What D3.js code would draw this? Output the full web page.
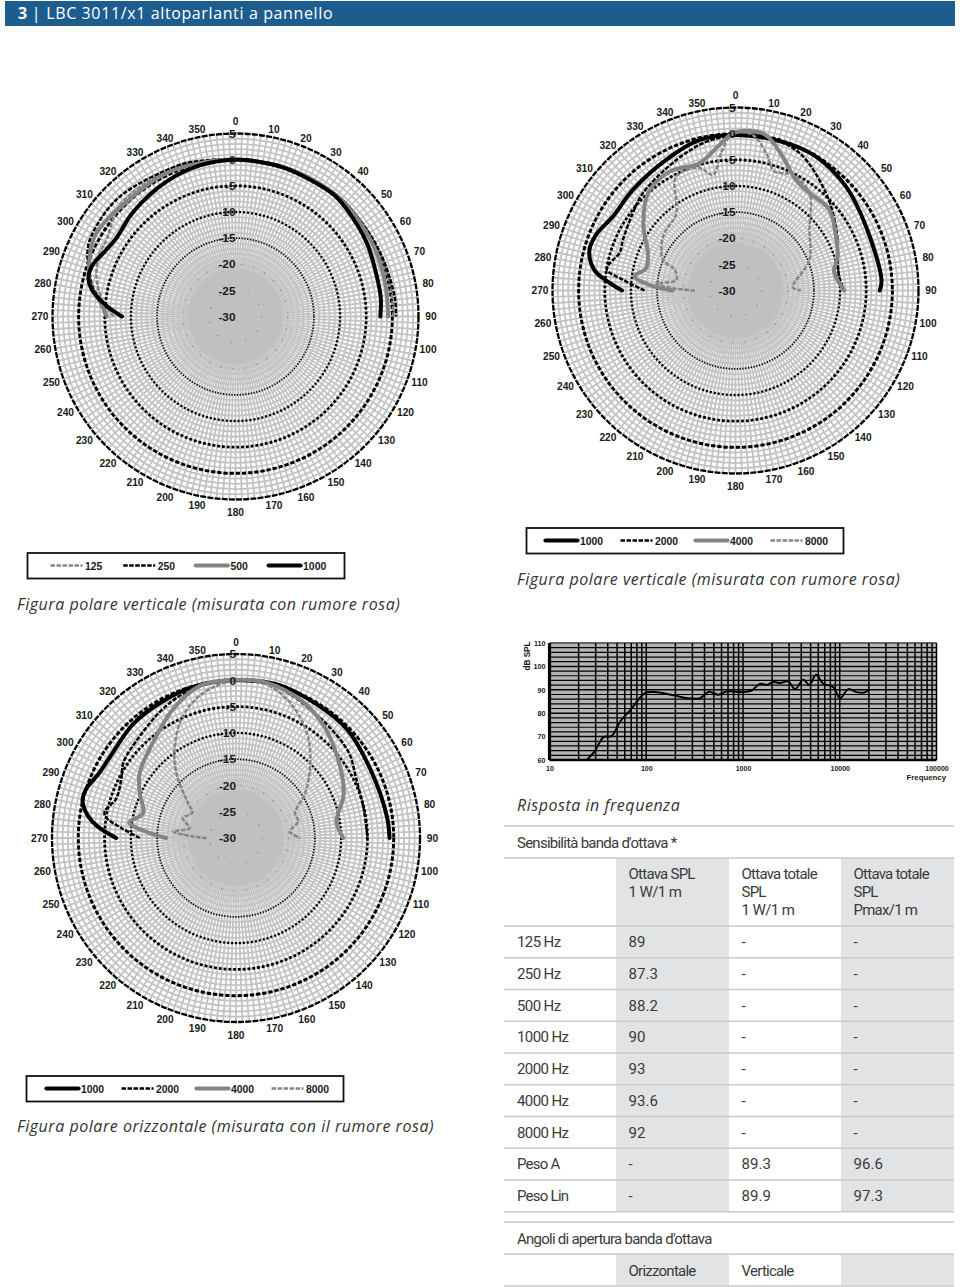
<!DOCTYPE html>
<html><head><meta charset="utf-8">
<script src="https://cdn.jsdelivr.net/npm/d3@7"></script>
<style>
html,body{margin:0;padding:0;background:#fff}
svg{display:block}
.ax{font-family:"Liberation Sans",Arial,sans-serif;font-weight:bold;fill:#1a1a1a}
.ttl{font-family:"Open Sans",sans-serif;font-style:italic;fill:#333}
.tb{font-family:"Roboto",sans-serif;fill:#3a3a3a}
</style></head><body>
<svg id="c" width="960" height="1287"></svg>
<script>
// Polar data: [angle in degrees from the 0 axis (negative = left side, -90 is 270), level in dB]
const vertLow125=[[-90,-6.7],[-84,-4.6],[-75,-2.5],[-66,-1.4],[-59,-1.3],[-48,.5],[-40,.8],[-22,.7],[-10,.3],[0,0],[20,.1],[40,.3],[50,.1],[65,.1],[80,.2],[90,.2]];
const vertLow250=[[-90,-5.2],[-84,-4.2],[-78,-2],[-71,-.3],[-67.7,.6],[-62,1.5],[-45,1.9],[-21,.9],[-12.8,.5],[0,0],[20,.1],[40,.2],[55,.1],[66,.25],[75,.4],[83.8,.7],[90,.7]];
const vertLow500=[[-90,-5.4],[-84,-4],[-78,-1.6],[-73.3,-.7],[-60,1],[-40,.2],[-25.5,.45],[-13,.1],[0,0],[20,0],[38,.1],[50,-.1],[60,-.3],[70,-.5],[80,-.7],[90,-.8]];
const vertLow1000=[[-90,-8.3],[-85.3,-5.3],[-80.4,-2.5],[-75.8,-1],[-70.6,-.9],[-64,-2],[-57.3,-2.7],[-44,-2],[-26.8,-1],[-13,-.3],[0,0],[10,-.1],[20,-.1],[38.7,-.06],[46,-.45],[60.6,-1.2],[74,-1.9],[83,-2],[90,-2.3]];

const vertHigh1000=[[-90,-8.3],[-86,-5.5],[-81.7,-2.7],[-74.4,-1],[-68,-1.3],[-59,-2.6],[-45.6,-2.5],[-28,-1.7],[-13.4,-.4],[0,-.25],[17.4,-.2],[30.7,-.1],[46.8,-1],[63.9,-2.2],[85.8,-2],[90,-2.4]];
const vertHigh2000=[[-90,-12.6],[-84.6,-8.4],[-80.9,-5.1],[-77.8,-5.4],[-72,-6.7],[-65.8,-6.4],[-53,-5.4],[-43.6,-4.3],[-24.4,-2.6],[-11,-1],[0,-.3],[11,0],[25,-1],[43,-4.6],[59,-7.5],[71.6,-9.4],[82,-10],[90,-9.2]];
const vertHigh4000=[[-90,-18],[-87,-14.2],[-82,-10.5],[-76,-12.4],[-67,-11.8],[-55,-8.5],[-42,-5],[-29,-4],[-15.8,-4.7],[-6.3,-2],[-1,.05],[3.8,.6],[11,.3],[19.5,-2.9],[28.7,-5.9],[37,-6.6],[49,-6.3],[61.8,-8.2],[71.6,-9.4],[79,-10.8],[90,-9.2]];
const vertHigh8000=[[-90,-22.2],[-88,-18],[-85,-14.8],[-80,-18.5],[-71,-17.7],[-67,-14.9],[-53,-12.7],[-37.5,-11.4],[-27.5,-5.4],[-16.4,-5.6],[-11,-7.5],[-6,-3.6],[-1,0],[6.4,-.1],[12.6,-3.1],[18,-6],[26.4,-5.3],[37.2,-6.6],[50.6,-11.7],[67.5,-14.7],[83,-18.7],[87,-19],[90,-17.5]];

const horiz1000=[[-90,-7.2],[-83.5,-2.5],[-76.6,0],[-72,0],[-64.6,-1.2],[-57.7,-1.5],[-42,-.8],[-28,-.5],[-14.6,-.1],[0,0],[15,.25],[31,-.3],[45.7,-.45],[63,-1.3],[82,-1],[90,-.8]];
const horiz2000=[[-90,-11.7],[-85,-8.1],[-81,-5],[-78.6,-4.5],[-72,-6],[-63,-5.5],[-56,-4.2],[-42.7,-3.3],[-28,-1.6],[-15,-.4],[0,0],[15,-.2],[37.8,-2.3],[53,-3.1],[62.7,-4.4],[77.6,-5.1],[90,-5]];
const horiz4000=[[-90,-16.7],[-86,-12.9],[-81.8,-9.5],[-75,-11.7],[-65,-9.8],[-56,-7.9],[-38,-5.4],[-26,-2.7],[-13.4,-.25],[0,.1],[11,.1],[25,-1],[35,-2.4],[46.8,-4.5],[67.4,-7.8],[80.7,-10.6],[90,-9.6]];
const horiz8000=[[-90,-24.4],[-88,-21.8],[-84,-18],[-78,-21],[-69.5,-19.2],[-59.7,-20.4],[-54,-18.7],[-42.5,-13.2],[-33.7,-9],[-23.5,-4.7],[-12.7,-1.7],[0,0],[11,-.2],[21.8,-2.3],[34,-5.9],[44.7,-9.9],[57,-14.3],[67,-17.8],[75,-17.7],[83,-19.7],[90,-17.8]];

const lowBands=["125","250","500","1000"];
const highBands=["1000","2000","4000","8000"];
const ringTicks=[5,0,-5,-10,-15,-20,-25,-30];
const angleTicks=d3.range(0,360,10);

// Frequency response: [Hz, dB SPL]
const freqResponse=[[24.3,60],[29.6,64],[36,69.7],[44,70.3],[53.7,76.4],[70.8,82.1],[97,88.6],[128,89],[206,87.4],[262,86.4],[360,86.4],[440,89.1],[557,87.9],[680,89.3],[1010,89],[1230,89.7],[1500,92.6],[1760,92.1],[2060,93.3],[2415,92.9],[2945,93.6],[3450,90.3],[4200,94.3],[4850,92.1],[5690,96.4],[6760,92.6],[8590,91.1],[10070,86.4],[12270,90.3],[14960,89],[18200,88.9],[20000,90]];
const freqTicks=[10,100,1000,10000,100000];
const splTicks=[60,70,80,90,100,110];

// Table
const octaveHead=[["Ottava SPL","1 W/1 m"],["Ottava totale","SPL","1 W/1 m"],["Ottava totale","SPL","Pmax/1 m"]];
const octaveRows=[["125 Hz","89","-","-"],["250 Hz","87.3","-","-"],["500 Hz","88.2","-","-"],["1000 Hz","90","-","-"],["2000 Hz","93","-","-"],["4000 Hz","93.6","-","-"],["8000 Hz","92","-","-"],["Peso A","-","89.3","96.6"],["Peso Lin","-","89.9","97.3"]];
const angleHead=["","Orizzontale","Verticale",""];

const svg=d3.select("#c");
const BLUE="#1d5d8e";
const bandStyle={
 "125":{c:"#858585",w:2.5,d:"4.5 1.5"},"250":{c:"#000",w:2.5,d:"4.5 1.5"},"500":{c:"#848484",w:4,d:null},"1000":{c:"#000",w:4,d:null},
 "2000":{c:"#000",w:2.5,d:"4.5 1.5"},"4000":{c:"#848484",w:4,d:null},"8000":{c:"#858585",w:2.5,d:"4.5 1.5"}};
const ringStyle={"5":{w:2.3,d:"6 1.2",c:"#000"},"0":{w:3,d:"4.2 2",c:"#000"},"-5":{w:2.8,d:"2.8 2",c:"#000"},"-10":{w:2.4,d:"2 2",c:"#000"},"-15":{w:1.8,d:"1.2 1.6",c:"#000"},"-20":{w:1.2,d:"1 11",c:"#777"},"-25":{w:1.2,d:"1 14",c:"#777"}};

// header
svg.append("rect").attr("x",5).attr("y",1).attr("width",950).attr("height",25).attr("fill",BLUE);
const h=svg.append("text").attr("x",18).attr("y",19).attr("fill","#fff").style("font-family","'Open Sans',sans-serif").style("font-size","16px").style("letter-spacing","0.62px");
h.append("tspan").attr("font-weight","bold").text("3");
h.append("tspan").attr("dx",4).text("|");
h.append("tspan").attr("dx",5).text("LBC 3011/x1 altoparlanti a pannello");

function polar(cx,cy,R,series,bands){
  const g=svg.append("g").attr("transform",`translate(${cx},${cy})`);
  const r=d3.scaleLinear().domain([-30,5]).range([0,R]);
  g.append("circle").attr("r",R).attr("fill","#fff");
  g.selectAll(".sp").data(d3.range(0,360,2)).join("line")
    .attr("x2",d=>R*Math.sin(d*Math.PI/180)).attr("y2",d=>-R*Math.cos(d*Math.PI/180))
    .attr("stroke","#c3c3c3").attr("stroke-width",1.8);
  g.selectAll(".gr").data(d3.range(-29,5)).join("circle").attr("r",d=>r(d)).attr("fill","none")
    .attr("stroke","#c3c3c3").attr("stroke-width",1.8);
  g.append("circle").attr("r",r(-21)).attr("fill","#c0c0c0");
  g.selectAll(".rg").data(ringTicks.filter(d=>d>-30)).join("circle").attr("r",d=>r(d)).attr("fill","none")
    .attr("stroke",d=>ringStyle[d].c).attr("stroke-width",d=>ringStyle[d].w).attr("stroke-dasharray",d=>ringStyle[d].d);
  const line=d3.lineRadial().angle(d=>d[0]*Math.PI/180).radius(d=>r(d[1])).curve(d3.curveCatmullRom.alpha(0.5));
  series.forEach((s,i)=>{const st=bandStyle[bands[i]];
    g.append("path").attr("d",line(s)).attr("fill","none").attr("stroke",st.c).attr("stroke-width",st.w)
     .attr("stroke-dasharray",st.d).attr("stroke-linecap",st.d?"butt":"round").attr("stroke-linejoin","round");});
  g.selectAll(".rl").data(ringTicks).join("text").attr("class","ax").attr("text-anchor","end")
    .attr("x",0).attr("y",d=>-r(d)+4.2).style("font-size","11.8px").text(d=>d);
  g.selectAll(".al").data(angleTicks).join("text").attr("class","ax").attr("text-anchor","middle").style("font-size","10.2px")
    .attr("x",d=>{const s=Math.sin(d*Math.PI/180);return R*s+(d%180===0?0:Math.sign(s)*(5.5+7*Math.abs(s)))})
    .attr("y",d=>{const c=Math.cos(d*Math.PI/180);return -R*c-(d===0?12:d===180?-13:c*(c>0?7:9))+3.6})
    .text(d=>d);
}
polar(235.5,316.5,183,[vertLow125,vertLow250,vertLow500,vertLow1000],lowBands);
polar(735.5,290.5,183,[vertHigh1000,vertHigh2000,vertHigh4000,vertHigh8000],highBands);
polar(236,838,184,[horiz1000,horiz2000,horiz4000,horiz8000],highBands);

function legend(x,y,bands,start,step){
  const g=svg.append("g").attr("transform",`translate(${x},${y})`);
  g.append("rect").attr("width",317).attr("height",25.5).attr("fill","#fff").attr("stroke","#111").attr("stroke-width",1.8);
  bands.forEach((b,i)=>{const st=bandStyle[b],x0=start+i*step;
    g.append("line").attr("x1",x0).attr("x2",x0+32).attr("y1",12.5).attr("y2",12.5).attr("stroke",st.c).attr("stroke-width",st.w+(st.d?0:.2))
      .attr("stroke-dasharray",st.d).attr("stroke-linecap",st.d?"butt":"round");
    g.append("text").attr("class","ax").attr("x",x0+34.5).attr("y",17).style("font-size","10.4px").text(b);});
}
legend(27.5,553,lowBands,23,72.7);
legend(526.5,528,highBands,19,75);
legend(26.5,1076,highBands,20,75);

function title(x,y,t){svg.append("text").attr("class","ttl").attr("x",x).attr("y",y).style("font-size","16px").style("letter-spacing","0.53px").text(t);}
title(17,610,"Figura polare verticale (misurata con rumore rosa)");
title(517,585,"Figura polare verticale (misurata con rumore rosa)");
title(17,1132,"Figura polare orizzontale (misurata con il rumore rosa)");
title(517,811,"Risposta in frequenza");

// frequency plot
const fx=d3.scaleLog().domain([10,100000]).range([549.5,936.5]);
const fy=d3.scaleLinear().domain([60,110]).range([760,643]);
svg.append("rect").attr("x",fx(10)).attr("y",fy(110)).attr("width",fx(100000)-fx(10)).attr("height",fy(60)-fy(110)).attr("fill","#b4b4b4");
svg.append("g").selectAll("line").data(d3.range(60,111,2)).join("line").attr("x1",fx(10)).attr("x2",fx(100000)).attr("y1",d=>fy(d)).attr("y2",d=>fy(d))
  .attr("stroke",d=>d===110?"#666":"#000").attr("stroke-width",d=>d===60?2.6:d===110?2.2:d%10===0?1.5:1.2);
const vt=d3.range(1,5).flatMap(e=>d3.range(1,10).map(m=>m*10**e)).concat([100000]);
svg.append("g").selectAll("line").data(vt).join("line").attr("x1",d=>fx(d)).attr("x2",d=>fx(d)).attr("y1",fy(110)).attr("y2",fy(60))
  .attr("stroke","#000").attr("stroke-width",d=>d===10?3.2:1.5);
svg.append("path").attr("d",d3.line().x(d=>fx(d[0])).y(d=>fy(d[1])).curve(d3.curveCatmullRom)(freqResponse)).attr("fill","none").attr("stroke","#000").attr("stroke-width",2);
const ya=svg.append("g").attr("transform",`translate(${fx(10)-3},0)`).call(d3.axisLeft(fy).tickValues(splTicks).tickSize(0).tickPadding(1));
ya.select(".domain").remove();ya.selectAll("text").attr("class","ax").style("font-size","7.2px");
const xa=svg.append("g").attr("transform",`translate(0,${fy(60)})`).call(d3.axisBottom(fx).tickValues(freqTicks).tickFormat(d3.format("d")).tickSize(0).tickPadding(6));
xa.select(".domain").remove();xa.selectAll("text").attr("class","ax").style("font-size","7px").style("fill","#1a1a1a");
svg.append("text").attr("class","ax").attr("x",946).attr("y",780).attr("text-anchor","end").style("font-size","7.8px").text("Frequency");
svg.append("text").attr("class","ax").attr("transform","translate(530,656) rotate(-90)").attr("text-anchor","middle").style("font-size","8.2px").text("dB SPL");

// tables
const colX=[504,616,729,841,954];
const GREY="#e1e3e5",RULE="#c8cacc";
const rowH=31.75;
function band(i,y0,y1){svg.append("rect").attr("x",colX[i]).attr("y",y0).attr("width",colX[i+1]-colX[i]).attr("height",y1-y0).attr("fill",GREY);}
[1,3].forEach(i=>{band(i,858,1212);band(i,1254,1286);});
const rules=[826,858,926].concat(d3.range(1,10).map(i=>926+i*rowH),[1222,1254,1286]);
svg.append("g").selectAll("line").data(rules).join("line").attr("x1",504).attr("x2",954).attr("y1",d=>d).attr("y2",d=>d).attr("stroke",RULE).attr("stroke-width",1.5);
function tx(x,y,t){const ls=/^[\d.\-]+$/.test(t)?0.1:/^\d/.test(t)?-0.6:-0.75;
  svg.append("text").attr("class","tb").attr("x",x).attr("y",y).style("font-size","15px").style("letter-spacing",ls+"px").text(t);}
tx(517,848,"Sensibilità banda d'ottava *");
octaveHead.forEach((ls,c)=>ls.forEach((t,k)=>tx(colX[c+1]+12.5,879+k*18,t)));
octaveRows.forEach((row,i)=>row.forEach((t,c)=>tx(c===0?517:colX[c]+12.5,947+i*rowH,t)));
tx(517,1244,"Angoli di apertura banda d'ottava");
angleHead.forEach((t,c)=>{if(t)tx(colX[c]+12.5,1276,t);});
</script>
</body></html>
